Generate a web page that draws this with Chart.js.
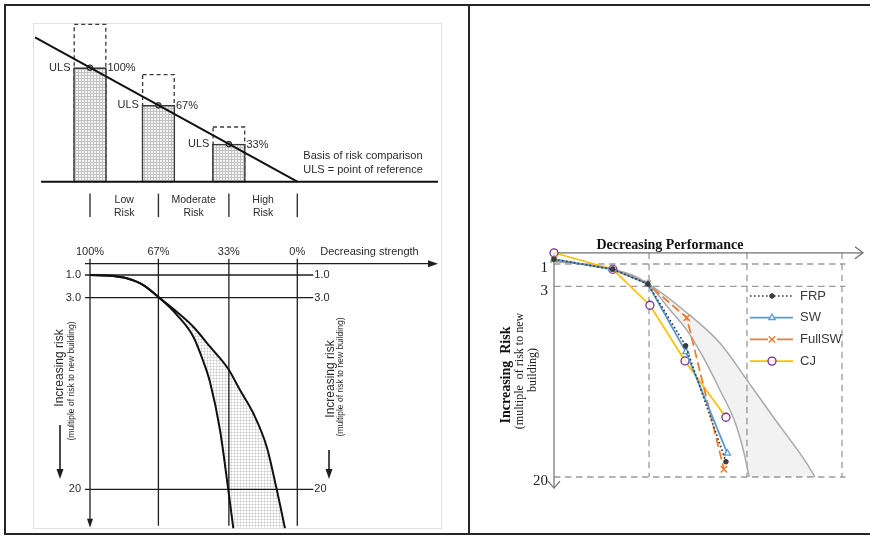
<!DOCTYPE html>
<html>
<head>
<meta charset="utf-8">
<script src="https://cdn.jsdelivr.net/npm/chart.js@4.4.1/dist/chart.umd.min.js"></script>
<style>
html,body{margin:0;padding:0;background:#fff;}
#wrap{position:relative;width:870px;height:536px;overflow:hidden;background:#fff;}
#wrap canvas{position:absolute;left:0;top:0;pointer-events:none;}
.rule{position:absolute;background:#262626;}
.frame{position:absolute;border:1px solid #e2e2e2;}
</style>
</head>
<body>
<div id="wrap">
  <div class="frame" style="left:33px;top:23px;width:407px;height:504px"></div>
  <div class="rule" style="left:4px;top:4px;width:866px;height:2px"></div>
  <div class="rule" style="left:4px;top:4px;width:2px;height:531px"></div>
  <div class="rule" style="left:4px;top:533px;width:866px;height:2px"></div>
  <div class="rule" style="left:468px;top:4px;width:2px;height:531px"></div>
  <canvas id="topLeft" width="870" height="536"></canvas>
  <canvas id="bottomLeft" width="870" height="536"></canvas>
  <canvas id="rightChart" width="870" height="536"></canvas>
</div>
<script>
// ================= DATA =================
// Top-left panel: basis of risk comparison
const strengthLevels   = [100, 67, 33];          // % of new-building strength
const ulsHeights       = [100, 67, 33];          // solid (ULS) bars
const requiredHeights  = [138, 94, 48];          // dashed boxes
const ulsPercentLabels = ['100%', '67%', '33%'];
const riskBandEdges    = [100, 67, 33, 0];
const riskBandCenters  = [83.5, 50, 16.5];
const riskBandLabels   = [['Low', 'Risk'], ['Moderate', 'Risk'], ['High', 'Risk']];
const diagonalX        = [126.5, 0];
const diagonalY        = [126.5, 0];
const baselineX        = [123.6, -67.87];
const baselineY        = [0, 0];

// Bottom-left panel: risk vs strength curves
const strengthTicks      = [100, 67, 33, 0];
const strengthTickLabels = ['100%', '67%', '33%', '0%'];
const riskTicks          = [1, 3, 20];
const riskTickLabels     = ['1.0', '3.0', '20'];
const upperCurveX = [100, 90.35, 82.3, 74.29, 66.23, 58.18, 50.17, 42.11, 33.28, 27.64, 21.22, 14.76, 9.94, 5.93];
const upperCurveY = [1.0, 1.06, 1.29, 1.89, 3.07, 4.26, 5.59, 7.36, 9.34, 11.2, 13.26, 16.22, 20.0, 23.46];
const lowerCurveX = [100, 90.35, 82.3, 74.29, 66.23, 58.03, 50.17, 45.49, 42.11, 37.29, 33.28, 30.87];
const lowerCurveY = [1.0, 1.06, 1.29, 1.89, 3.07, 4.55, 6.47, 8.58, 10.49, 14.74, 20.06, 23.46];
const shadeEdgeX  = [30.87, 5.93];
const shadeEdgeY  = [23.46, 23.46];

// Right panel: decreasing performance
const perfGridX      = [67, 33, 0];
const rightRiskTicks = [1, 3, 20];
const rightRiskLabels = ['1', '3', '20'];
const frpX    = [100, 79.6, 67.4, 54.3, 40.3];
const frpY    = [0.58, 1.47, 2.78, 8.29, 18.64];
const swX     = [100, 79.6, 67.4, 54.2, 39.8];
const swY     = [0.58, 1.47, 2.78, 8.84, 17.89];
const fullswX = [100, 79.6, 67.5, 53.9, 41.0];
const fullswY = [0.58, 1.47, 2.76, 5.79, 19.31];
const cjX     = [100, 79.6, 66.7, 54.5, 40.3];
const cjY     = [0, 1.47, 4.68, 9.65, 14.67];
const refOuterX = [100, 79.6, 67.4, 53.8, 42.4, 32.3, 24.0, 12.2, 9.4];
const refOuterY = [0.75, 1.47, 2.78, 5.37, 8.05, 11.6, 14.6, 18.8, 20];
const refInnerX = [100, 79.6, 67.4, 59.7, 53.9, 48.3, 42.4, 36.6, 32.5, 32.3];
const refInnerY = [0.75, 1.47, 2.78, 5.1, 6.9, 9.27, 12.24, 15.5, 19.67, 20];
const refEdgeX  = [32.3, 9.4];
const refEdgeY  = [20, 20];

// ================= HELPERS =================
const W = 870, H = 536;
const pts = (xs, ys) => xs.map((x, i) => ({x: x, y: ys[i]}));
Chart.defaults.animation = false;
Chart.defaults.events = [];
Chart.defaults.responsive = false;
Chart.defaults.maintainAspectRatio = false;
Chart.defaults.devicePixelRatio = 1;
Chart.defaults.plugins.legend.display = false;
Chart.defaults.plugins.tooltip.enabled = false;

function box(l, t, r, b) { return {left: l, top: t, right: W - r, bottom: H - b}; }
function gridPattern(bg, lineCol, size) {
  const c = document.createElement('canvas'); c.width = size; c.height = size;
  const g = c.getContext('2d');
  if (bg) { g.fillStyle = bg; g.fillRect(0, 0, size, size); }
  g.fillStyle = lineCol; g.fillRect(0, 0, size, 1); g.fillRect(0, 0, 1, size);
  return g.createPattern(c, 'repeat');
}
function txt(ctx, s, x, y, font, color, align, base, rot) {
  ctx.save(); ctx.font = font; ctx.fillStyle = color;
  ctx.textAlign = align || 'left'; ctx.textBaseline = base || 'middle';
  if (rot) { ctx.translate(x, y); ctx.rotate(rot); ctx.fillText(s, 0, 0); }
  else ctx.fillText(s, x, y);
  ctx.restore();
}
function seg(ctx, x1, y1, x2, y2, color, w, dash) {
  ctx.save(); ctx.beginPath(); ctx.strokeStyle = color; ctx.lineWidth = w;
  ctx.setLineDash(dash || []); ctx.moveTo(x1, y1); ctx.lineTo(x2, y2); ctx.stroke(); ctx.restore();
}
function head(ctx, x, y, dir, len, half, color) {
  ctx.save(); ctx.fillStyle = color; ctx.beginPath(); ctx.moveTo(x, y);
  if (dir === 'right') { ctx.lineTo(x - len, y - half); ctx.lineTo(x - len, y + half); }
  else { ctx.lineTo(x - half, y - len); ctx.lineTo(x + half, y - len); }
  ctx.closePath(); ctx.fill(); ctx.restore();
}
function chevron(ctx, x, y, dir, len, half, color, w) {
  ctx.save(); ctx.strokeStyle = color; ctx.lineWidth = w; ctx.beginPath();
  if (dir === 'right') { ctx.moveTo(x - len, y - half); ctx.lineTo(x, y); ctx.lineTo(x - len, y + half); }
  else { ctx.moveTo(x - half, y - len); ctx.lineTo(x, y); ctx.lineTo(x + half, y - len); }
  ctx.stroke(); ctx.restore();
}
const SANS = '"Liberation Sans", Arial, sans-serif';
const SERIF = '"Liberation Serif", "Times New Roman", serif';
const INK = '#2b2b2b';

// ================= TOP-LEFT CHART =================
const barPattern = gridPattern('#f4f4f4', '#c2c2c2', 3);
new Chart(document.getElementById('topLeft'), {
  type: 'bar',
  data: {datasets: [
    {type: 'line', data: pts(diagonalX, diagonalY), borderColor: '#111', borderWidth: 2, pointRadius: 0, tension: 0},
    {type: 'line', data: pts(baselineX, baselineY), borderColor: '#111', borderWidth: 2, pointRadius: 0, tension: 0},
    {type: 'line', showLine: false, data: pts(strengthLevels, ulsHeights), pointRadius: 2.8,
     pointBackgroundColor: '#8c8c8c', pointBorderColor: '#1a1a1a', pointBorderWidth: 1},
    {type: 'bar', data: pts(strengthLevels, ulsHeights), backgroundColor: barPattern, borderColor: '#3a3a3a',
     borderWidth: 1.6, barThickness: 33, grouped: false},
    {type: 'bar', data: pts(strengthLevels, requiredHeights), backgroundColor: 'rgba(0,0,0,0)', borderWidth: 0,
     barThickness: 33, grouped: false}
  ]},
  options: {
    layout: {padding: box(33, 23, 438, 193.1)},
    scales: {
      x: {type: 'linear', reverse: true, min: -67.87, max: 127.5, display: false, offset: false},
      y: {type: 'linear', min: -10, max: 139.2, display: false}
    }
  },
  plugins: [{
    id: 'riskBasis',
    beforeDatasetsDraw(chart) {
      const ctx = chart.ctx;
      chart.getDatasetMeta(4).data.forEach(b => {
        const p = b.getProps(['x', 'y', 'width', 'base'], true);
        ctx.save(); ctx.strokeStyle = '#3a3a3a'; ctx.lineWidth = 1.3; ctx.setLineDash([4, 3]);
        ctx.strokeRect(p.x - p.width / 2 + 0.7, p.y, p.width - 1.4, p.base - p.y); ctx.restore();
      });
    },
    afterDatasetsDraw(chart) {
      const ctx = chart.ctx, xs = chart.scales.x, ys = chart.scales.y;
      const f = '11px ' + SANS;
      chart.getDatasetMeta(3).data.forEach((b, i) => {
        const p = b.getProps(['x', 'y', 'width'], true);
        txt(ctx, 'ULS', p.x - p.width / 2 - 3, p.y, f, INK, 'right');
        txt(ctx, ulsPercentLabels[i], p.x + p.width / 2 + 1, p.y + 0.5, f, INK, 'left');
      });
      const y0 = chart.chartArea.bottom;
      riskBandEdges.forEach(v => { const x = xs.getPixelForValue(v); seg(ctx, x, y0 + 0.5, x, y0 + 24, '#333', 1.4); });
      riskBandCenters.forEach((v, i) => {
        const x = xs.getPixelForValue(v);
        txt(ctx, riskBandLabels[i][0], x, y0 + 7, '10.5px ' + SANS, INK, 'center');
        txt(ctx, riskBandLabels[i][1], x, y0 + 20, '10.5px ' + SANS, INK, 'center');
      });
      const bx = xs.getPixelForValue(0) + 6, by = ys.getPixelForValue(0);
      txt(ctx, 'Basis of risk comparison', bx, by - 26, f, INK, 'left');
      txt(ctx, 'ULS = point of reference', bx, by - 12, f, INK, 'left');
    }
  }]
});

// ================= BOTTOM-LEFT CHART =================
const hatch = gridPattern(null, 'rgba(0,0,0,0.11)', 3);
const curveStyle = {borderColor: '#111', borderWidth: 2, pointRadius: 0, cubicInterpolationMode: 'monotone'};
new Chart(document.getElementById('bottomLeft'), {
  type: 'line',
  data: {datasets: [
    Object.assign({data: pts(upperCurveX, upperCurveY)}, curveStyle),
    Object.assign({data: pts(lowerCurveX, lowerCurveY), fill: {target: 0}, backgroundColor: hatch}, curveStyle),
    {data: pts(shadeEdgeX, shadeEdgeY), borderWidth: 0, pointRadius: 0, fill: {target: 0}, backgroundColor: hatch}
  ]},
  options: {
    layout: {padding: box(85, 262.59, 438, 528.78)},
    scales: {
      x: {type: 'linear', reverse: true, min: -67.88, max: 102.41, display: false},
      y: {type: 'linear', reverse: true, min: -0.1, max: 23.5, display: false}
    }
  },
  plugins: [{
    id: 'curveGrid',
    beforeDatasetsDraw(chart) {
      const ctx = chart.ctx, xs = chart.scales.x, ys = chart.scales.y, a = chart.chartArea;
      const y0 = ys.getPixelForValue(0), xEnd = xs.getPixelForValue(0) + 16;
      riskTicks.forEach(v => { const y = ys.getPixelForValue(v); seg(ctx, a.left, y, xEnd, y, '#1e1e1e', 1.3); });
      strengthTicks.forEach((v, i) => {
        const x = xs.getPixelForValue(v);
        seg(ctx, x, y0 - 5, x, i === 0 ? a.bottom - 6 : a.bottom - 3, '#1e1e1e', 1.3);
      });
      head(ctx, xs.getPixelForValue(100), a.bottom - 1, 'down', 9, 3, '#1e1e1e');
      seg(ctx, a.left, y0, a.right - 8, y0, '#1e1e1e', 1.3);
      head(ctx, a.right, y0, 'right', 10, 3.5, '#1e1e1e');
    },
    afterDatasetsDraw(chart) {
      const ctx = chart.ctx, xs = chart.scales.x, ys = chart.scales.y;
      const f = '11px ' + SANS, y0 = ys.getPixelForValue(0);
      strengthTicks.forEach((v, i) => txt(ctx, strengthTickLabels[i], xs.getPixelForValue(v), y0 - 12, f, INK, 'center'));
      txt(ctx, 'Decreasing strength', xs.getPixelForValue(0) + 23, y0 - 12, f, INK, 'left');
      const xl = xs.getPixelForValue(100) - 9, xr = xs.getPixelForValue(0) + 17;
      riskTicks.forEach((v, i) => {
        const y = ys.getPixelForValue(v);
        txt(ctx, riskTickLabels[i], xl, y, f, INK, 'right');
        txt(ctx, riskTickLabels[i], xr, y, f, INK, 'left');
      });
      const r = -Math.PI / 2;
      txt(ctx, 'Increasing risk', 60, 368, '12px ' + SANS, INK, 'center', 'middle', r);
      txt(ctx, '(multiple of risk to new building)', 71.5, 381, '8.5px ' + SANS, INK, 'center', 'middle', r);
      seg(ctx, 60, 425, 60, 470, '#1e1e1e', 1.6); head(ctx, 60, 479, 'down', 10, 3.5, '#1e1e1e');
      txt(ctx, 'Increasing risk', 330.5, 379, '12px ' + SANS, INK, 'center', 'middle', r);
      txt(ctx, '(multiple of risk to new building)', 341, 377, '8.5px ' + SANS, INK, 'center', 'middle', r);
      seg(ctx, 329, 450, 329, 470, '#1e1e1e', 1.6); head(ctx, 329, 479, 'down', 10, 3.5, '#1e1e1e');
    }
  }]
});

// ================= RIGHT CHART =================
const refStyle = {borderColor: '#a9a9a9', borderWidth: 1.5, pointRadius: 0, cubicInterpolationMode: 'monotone'};
const shade = 'rgba(0,0,0,0.05)';
new Chart(document.getElementById('rightChart'), {
  type: 'line',
  data: {datasets: [
    {label: 'FRP', inLegend: true, data: pts(frpX, frpY), borderColor: '#3a3a3a', borderWidth: 1.7, borderDash: [1.6, 2.4],
     pointStyle: 'circle', pointRadius: 2.3, pointBackgroundColor: '#3a3a3a', pointBorderColor: '#3a3a3a', pointBorderWidth: 1, clip: false},
    {label: 'SW', inLegend: true, data: pts(swX, swY), borderColor: '#5b9bd5', borderWidth: 1.8,
     pointStyle: 'triangle', pointRadius: 3.6, pointBackgroundColor: '#ffffff', pointBorderColor: '#5b9bd5', pointBorderWidth: 1.3, clip: false},
    {label: 'FullSW', inLegend: true, data: pts(fullswX, fullswY), borderColor: '#ed7d31', borderWidth: 1.8, borderDash: [9, 4],
     pointStyle: 'crossRot', pointRadius: 4.5, pointBorderColor: '#ed7d31', pointBorderWidth: 1.5, clip: false},
    {label: 'CJ', inLegend: true, data: pts(cjX, cjY), borderColor: '#ffc000', borderWidth: 1.7,
     pointStyle: 'circle', pointRadius: 4, pointBackgroundColor: 'rgba(255,255,255,0.7)', pointBorderColor: '#7030a0', pointBorderWidth: 1.3, clip: false},
    Object.assign({data: pts(refOuterX, refOuterY)}, refStyle),
    Object.assign({data: pts(refInnerX, refInnerY), fill: {target: 4}, backgroundColor: shade}, refStyle),
    {data: pts(refEdgeX, refEdgeY), borderWidth: 0, pointRadius: 0, fill: {target: 4}, backgroundColor: shade}
  ]},
  options: {
    layout: {padding: box(554, 252.8, 863, 488.2)},
    scales: {
      x: {type: 'linear', reverse: true, min: -7.29, max: 100, display: false},
      y: {type: 'linear', reverse: true, min: 0, max: 21, display: false}
    }
  },
  plugins: [{
    id: 'perfAxes',
    beforeDatasetsDraw(chart) {
      const ctx = chart.ctx, xs = chart.scales.x, ys = chart.scales.y, a = chart.chartArea;
      const dash = [6.5, 4.5], gc = '#9c9c9c';
      const xRight = xs.getPixelForValue(-1.2), yTop = ys.getPixelForValue(0), yBot = ys.getPixelForValue(20);
      rightRiskTicks.forEach(v => { const y = ys.getPixelForValue(v); seg(ctx, a.left, y, xRight, y, gc, 1.3, dash); });
      perfGridX.forEach(v => { const x = xs.getPixelForValue(v); seg(ctx, x, yTop, x, yBot, gc, 1.3, dash); });
      seg(ctx, a.left, yTop, a.right, yTop, '#707070', 1.2);
      chevron(ctx, a.right, yTop, 'right', 8, 6, '#707070', 1.2);
      seg(ctx, a.left, yTop, a.left, a.bottom, '#707070', 1.2);
      chevron(ctx, a.left, a.bottom, 'down', 7, 6, '#707070', 1.2);
    },
    afterDatasetsDraw(chart) {
      const ctx = chart.ctx, ys = chart.scales.y, a = chart.chartArea;
      rightRiskTicks.forEach((v, i) => txt(ctx, rightRiskLabels[i], a.left - 6, ys.getPixelForValue(v) + 4.5, '15px ' + SERIF, '#222', 'right'));
      txt(ctx, 'Decreasing Performance', a.left + 116, a.top - 7, 'bold 14px ' + SERIF, '#111', 'center');
      const r = -Math.PI / 2;
      txt(ctx, 'Increasing  Risk', 506, 375, 'bold 14px ' + SERIF, '#111', 'center', 'middle', r);
      txt(ctx, '(multiple  of risk to new', 520, 371, '12px ' + SERIF, '#222', 'center', 'middle', r);
      txt(ctx, 'building)', 533, 370, '12px ' + SERIF, '#222', 'center', 'middle', r);
      // legend built from the datasets
      let i = 0;
      chart.data.datasets.forEach(d => {
        if (!d.inLegend) return;
        const y = 296 + i * 21.7, x0 = 750, x1 = 793, xm = 772;
        ctx.save();
        ctx.strokeStyle = d.borderColor; ctx.lineWidth = d.borderWidth;
        ctx.setLineDash(d.borderDash || []);
        if (d.label === 'FullSW') { ctx.setLineDash([18, 9]); }
        ctx.beginPath(); ctx.moveTo(x0, y); ctx.lineTo(x1, y); ctx.stroke();
        ctx.setLineDash([]);
        ctx.strokeStyle = d.pointBorderColor; ctx.fillStyle = d.pointBackgroundColor || d.pointBorderColor;
        ctx.lineWidth = d.pointBorderWidth;
        Chart.helpers.drawPoint(ctx, {pointStyle: d.pointStyle, radius: d.pointRadius, borderWidth: d.pointBorderWidth, rotation: 0}, xm, y);
        ctx.restore();
        txt(ctx, d.label, 800, y, '13px ' + SANS, '#3a3a3a', 'left');
        i++;
      });
    }
  }]
});
</script>
</body>
</html>
